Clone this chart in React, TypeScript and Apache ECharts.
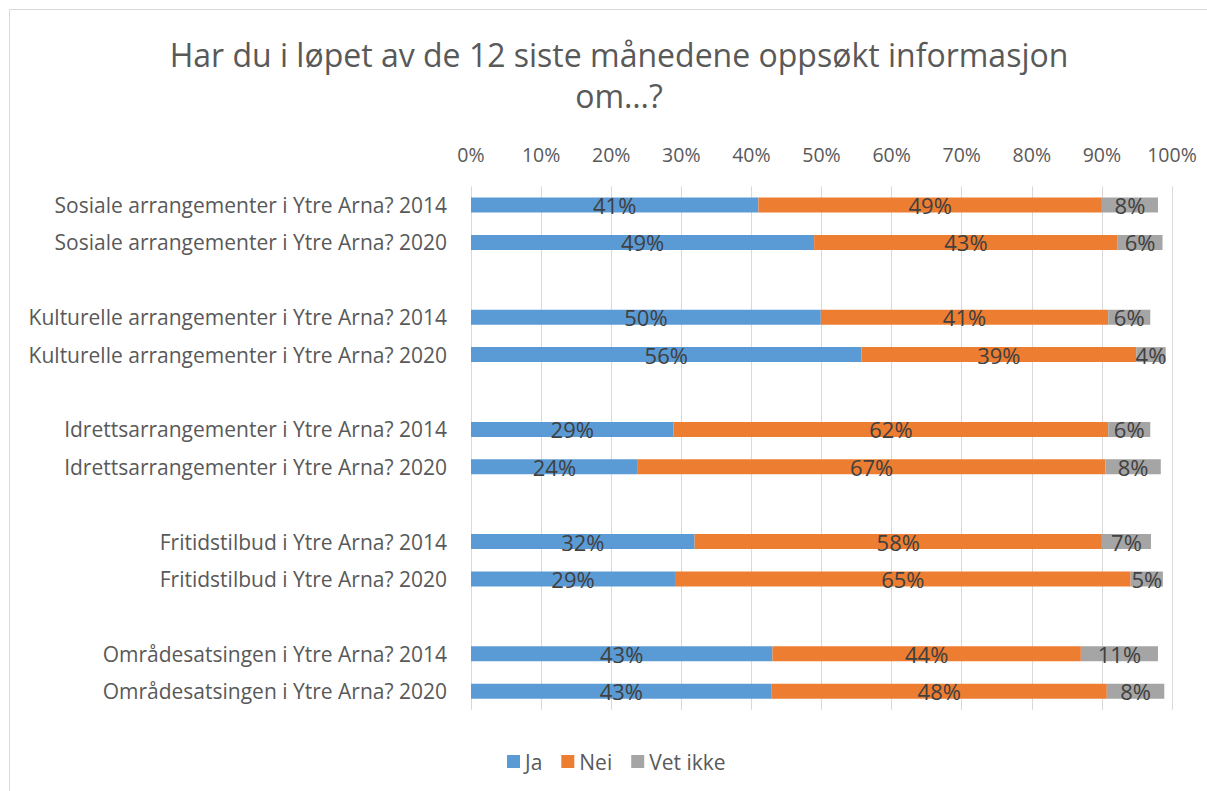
import React, { useEffect, useRef } from "react";
import * as echarts from "echarts";

const categories = [
  "Sosiale arrangementer i Ytre Arna? 2014",
  "Sosiale arrangementer i Ytre Arna? 2020",
  "",
  "Kulturelle arrangementer i Ytre Arna? 2014",
  "Kulturelle arrangementer i Ytre Arna? 2020",
  " ",
  "Idrettsarrangementer i Ytre Arna? 2014",
  "Idrettsarrangementer i Ytre Arna? 2020",
  "  ",
  "Fritidstilbud i Ytre Arna? 2014",
  "Fritidstilbud i Ytre Arna? 2020",
  "   ",
  "Områdesatsingen i Ytre Arna? 2014",
  "Områdesatsingen i Ytre Arna? 2020",
];

const ja = [41.0, 48.95, null, 49.9, 55.7, null, 28.9, 23.8, null, 31.9, 29.1, null, 43.0, 42.9];
const nei = [49.0, 43.3, null, 41.0, 39.2, null, 62.0, 66.7, null, 58.1, 65.0, null, 44.0, 47.8];
const vetIkke = [8.0, 6.4, null, 6.0, 4.2, null, 6.0, 7.9, null, 7.0, 4.6, null, 11.0, 8.2];

const seriesNames = ["Ja", "Nei", "Vet ikke"];
const colors = ["#5B9BD5", "#ED7D31", "#A5A5A5"];
const titleText = "Har du i løpet av de 12 siste månedene oppsøkt informasjon\nom…?";

const FONT = "Open Sans";

export default function App() {
  const ref = useRef<HTMLDivElement>(null);
  useEffect(() => {
    if (!ref.current) return;
    const chart = echarts.init(ref.current, undefined, { renderer: "svg" });
    const data = [ja, nei, vetIkke];
    chart.setOption({
      animation: false,
      backgroundColor: "#ffffff",
      textStyle: { fontFamily: FONT },
      title: {
        text: titleText,
        left: 614,
        top: 29,
        textAlign: "center",
        textStyle: {
          fontFamily: FONT,
          fontSize: 32,
          fontWeight: "normal",
          color: "#595959",
          lineHeight: 41,
        },
      },
      graphic: [
        {
          type: "rect",
          shape: { x: 9.5, y: 9.5, width: 1210, height: 800 },
          style: { fill: "none", stroke: "#D9D9D9", lineWidth: 1 },
          silent: true,
          z: -1,
        },
      ],
      legend: {
        data: seriesNames,
        left: 502,
        top: 746,
        itemWidth: 13,
        itemHeight: 13,
        itemGap: 19,
        icon: "rect",
        textStyle: { fontFamily: FONT, fontSize: 21, color: "#595959" },
        selectedMode: false,
      },
      grid: {
        left: 471,
        right: 35,
        top: 186.3,
        height: 523.6,
        containLabel: false,
      },
      xAxis: {
        type: "value",
        position: "top",
        min: 0,
        max: 100,
        interval: 10,
        axisLine: { show: false },
        axisTick: { show: false },
        splitLine: { show: true, lineStyle: { color: "#D9D9D9", width: 1 } },
        axisLabel: {
          formatter: "{value}%",
          fontFamily: FONT,
          fontSize: 19.5,
          color: "#595959",
          margin: 22,
        },
      },
      yAxis: {
        type: "category",
        data: categories,
        inverse: true,
        axisLine: { show: false },
        axisTick: { show: false },
        axisLabel: {
          fontFamily: FONT,
          fontSize: 21,
          color: "#595959",
          margin: 24,
        },
      },
      series: seriesNames.map((name, i) => ({
        name,
        type: "bar",
        stack: "total",
        barWidth: 15,
        data: data[i],
        itemStyle: { color: colors[i] },
        label: {
          show: true,
          position: "inside",
          formatter: (p: any) => (p.value == null ? "" : Math.round(p.value) + "%"),
          fontFamily: FONT,
          fontSize: 22,
          color: "#404040",
        },
      })),
    });
    return () => chart.dispose();
  }, []);
  return (
    <div
      ref={ref}
      style={{ position: "fixed", left: 0, top: 0, width: 1207, height: 791 }}
    />
  );
}
